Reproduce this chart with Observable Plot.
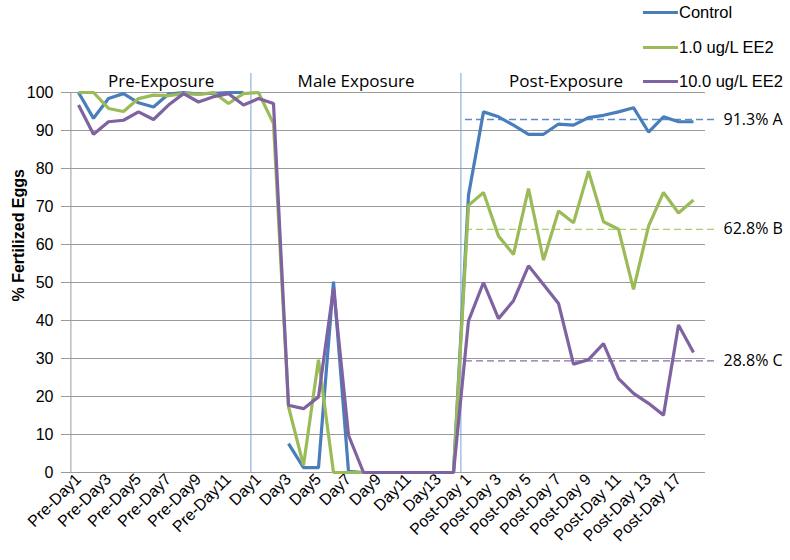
<!DOCTYPE html>
<html><head><meta charset="utf-8">
<script src="https://cdn.jsdelivr.net/npm/d3@7"></script>
<script src="https://cdn.jsdelivr.net/npm/@observablehq/plot@0.6"></script>
<style>
body{margin:0;background:#fff;}
#wrap{position:relative;width:790px;height:560px;overflow:hidden;}
.leg{position:absolute;left:643px;height:20px;font:16.5px "Liberation Sans",Arial,sans-serif;color:#000;display:flex;align-items:center;white-space:nowrap;}
.leg .sw{display:inline-block;width:35px;height:3px;margin-right:1px;}
</style></head><body><div id="wrap"></div>
<script>
const preDays = ["Pre-Day1","Pre-Day2","Pre-Day3","Pre-Day4","Pre-Day5","Pre-Day6","Pre-Day7","Pre-Day8","Pre-Day9","Pre-Day10","Pre-Day11","Pre-Day12"];
const maleDays = ["Day1","Day2","Day3","Day4","Day5","Day6","Day7","Day8","Day9","Day10","Day11","Day12","Day13","Day14"];
const postDays = ["Post-Day 1","Post-Day 2","Post-Day 3","Post-Day 4","Post-Day 5","Post-Day 6","Post-Day 7","Post-Day 8","Post-Day 9","Post-Day 10","Post-Day 11","Post-Day 12","Post-Day 13","Post-Day 14","Post-Day 17","Post-Day 18"];
const categories = [...preDays, ...maleDays, ...postDays];

const xTickLabels = ["Pre-Day1","Pre-Day3","Pre-Day5","Pre-Day7","Pre-Day9","Pre-Day11","Day1","Day3","Day5","Day7","Day9","Day11","Day13","Post-Day 1","Post-Day 3","Post-Day 5","Post-Day 7","Post-Day 9","Post-Day 11","Post-Day 13","Post-Day 17"];
const yTicks = [0,10,20,30,40,50,60,70,80,90,100];

const seriesNames = ["Control","1.0 ug/L EE2","10.0 ug/L EE2"];
const seriesColors = ["#4a7ebb","#9bbb59","#7f62a1"];

const control = [100,93.2,98.4,99.7,97.3,96.2,99.6,100,99.6,99.8,100,100,
  null,null,7.6,1.3,1.3,50.2,0.3,0,0,0,0,0,0,0,
  73,94.9,93.6,91.4,89.0,89.0,91.7,91.4,93.4,94.0,94.9,96.0,89.6,93.6,92.3,92.3];
const ee2low = [100,100,95.8,95.0,98.4,99.3,99.2,99.7,99.5,100,97.1,99.7,
  100,91.8,17.3,1.9,29.7,0,0,0,0,0,0,0,0,0,
  70.3,73.7,62.2,57.4,74.7,55.9,68.8,65.7,79.3,66.0,64.0,48.2,64.8,73.7,68.3,71.7];
const ee2high = [96.7,89.0,92.3,92.7,94.9,92.9,96.7,99.7,97.5,98.9,99.7,96.7,
  98.4,97.1,17.7,16.8,19.9,48.5,9.8,0,0,0,0,0,0,0,
  39.9,50.0,40.5,45.2,54.4,49.5,44.5,28.5,29.7,33.9,24.7,20.8,18.2,15.1,38.8,31.6];

const meanValues = [92.9,64.0,29.4];
const meanLabels = ["91.3% A","62.8% B","28.8% C"];
const meanColors = ["#5b8bc9","#a9cf6e","#8a6cae"];

const phaseNames = ["Pre-Exposure","Male Exposure","Post-Exposure"];
const phaseAnchors = ["Pre-Day6","Day7","Post-Day 7"];
const separators = ["Day1","Post-Day 1"];

const W = 790, H = 560, mL = 66, mR = 85, mT = 92, mB = 88;
const step = (W - mL - mR) / categories.length;

const allSeries = [control, ee2low, ee2high];
const data = [];
allSeries.forEach((vals, s) => vals.forEach((v, i) => data.push({series: seriesNames[s], day: categories[i], value: v})));
const means = meanValues.map((v, i) => ({v, label: meanLabels[i], color: meanColors[i]}));
const phases = phaseNames.map((n, i) => ({name: n, at: phaseAnchors[i]}));

const font = "Liberation Sans, Arial, sans-serif";
const font2 = "Open Sans, Noto Sans, sans-serif";

const chart = Plot.plot({
  width: W, height: H,
  marginLeft: mL, marginRight: mR, marginTop: mT, marginBottom: mB,
  style: {fontFamily: font, background: "#fff", color: "#000", overflow: "visible"},
  x: {type: "point", domain: categories, padding: 0.5},
  y: {domain: [0, 100]},
  color: {domain: seriesNames, range: seriesColors},
  marks: [
    Plot.gridY(yTicks, {stroke: "#9a9a9a", strokeOpacity: 1}),
    Plot.ruleX([categories[0]], {dx: -step / 2, stroke: "#9a9a9a"}),
    Plot.axisY(yTicks, {tickSize: 5, tickPadding: 8, fontSize: 16, stroke: "#9a9a9a", label: null}),
    Plot.axisX(xTickLabels, {tickRotate: -45, tickSize: 0, tickPadding: 4, fontSize: 16, label: null}),
    Plot.ruleX(separators, {dx: -step / 2 + 0, insetTop: -19, stroke: "#7aa3d6", strokeWidth: 1}),
    Plot.text(phases, {x: "at", text: "name", frameAnchor: "top", dx: step / 2, dy: -6, lineAnchor: "bottom", fontSize: 17, fontFamily: font2}),
    Plot.ruleY(means, {y: "v", x1: () => postDays[0], x2: () => postDays[postDays.length - 1], insetLeft: -3, insetRight: -25, stroke: "color", strokeWidth: 1.3, strokeDasharray: "7,4"}),
    Plot.text(means, {x: () => postDays[postDays.length - 1], y: "v", text: "label", dx: 30, textAnchor: "start", fontSize: 16, fontFamily: font2}),
    Plot.lineY(data, {x: "day", y: "value", z: "series", stroke: "series", strokeWidth: 3.2, strokeLinejoin: "miter", strokeLinecap: "butt"}),
    Plot.text(["% Fertilized Eggs"], {frameAnchor: "left", dx: -48, dy: 19, rotate: -90, fontWeight: "bold", fontSize: 16})
  ]
});
const wrap = document.getElementById("wrap");
wrap.appendChild(chart);
const legendTops = [2, 37, 71];
seriesNames.forEach((n, i) => {
  const d = document.createElement("div");
  d.className = "leg";
  d.style.top = legendTops[i] + "px";
  d.innerHTML = `<span class="sw" style="background:${seriesColors[i]}"></span>${n}`;
  wrap.appendChild(d);
});
</script></body></html>
